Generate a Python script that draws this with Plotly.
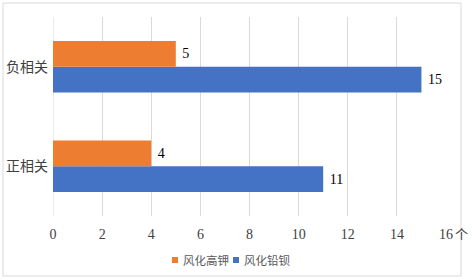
import plotly.graph_objects as go

categories = ["正相关", "负相关"]
series_names = ["风化高钾", "风化铅钡"]
k_values = [4, 5]
pb_values = [11, 15]
x_ticks = [0, 2, 4, 6, 8, 10, 12, 14, 16]

orange = "#ED7D31"
blue = "#4472C4"
serif = "Liberation Serif"
sans = "Noto Sans CJK SC"

L, R, T, B = 53, 446, 17, 216
W, H = R - L, B - T


def px(x):
    return (x - L) / W


def py(y):
    return (B - y) / H


fig = go.Figure()
fig.add_trace(go.Bar(
    y=categories, x=pb_values, name=series_names[1], orientation="h",
    marker=dict(color=blue, line=dict(width=0)),
    texttemplate=" %{x}", textposition="outside",
    textfont=dict(family=serif, size=14, color="#000000"),
    cliponaxis=False, showlegend=False, hoverinfo="skip",
))
fig.add_trace(go.Bar(
    y=categories, x=k_values, name=series_names[0], orientation="h",
    marker=dict(color=orange, line=dict(width=0)),
    texttemplate=" %{x}", textposition="outside",
    textfont=dict(family=serif, size=14, color="#000000"),
    cliponaxis=False, showlegend=False, hoverinfo="skip",
))

shapes = [
    dict(type="rect", xref="paper", yref="paper",
         x0=px(3), x1=px(461), y0=py(276), y1=py(3),
         line=dict(color="#D9D9D9", width=1), fillcolor="rgba(0,0,0,0)", layer="below"),
    dict(type="line", xref="x", yref="paper", x0=0, x1=0, y0=0, y1=1,
         line=dict(color="#D9D9D9", width=1), layer="below"),
    # legend swatches
    dict(type="rect", xref="paper", yref="paper", x0=px(172), x1=px(178),
         y0=py(263), y1=py(257), fillcolor=orange, line=dict(width=0)),
    dict(type="rect", xref="paper", yref="paper", x0=px(233), x1=px(239),
         y0=py(263), y1=py(257), fillcolor=blue, line=dict(width=0)),
]

annotations = [
    dict(text="个", xref="paper", yref="paper", x=px(461), y=py(233),
         xanchor="center", yanchor="middle", showarrow=False,
         font=dict(family=sans, size=13, color="#404040")),
    dict(text=series_names[0], xref="paper", yref="paper", x=px(181), y=py(260),
         xanchor="left", yanchor="middle", showarrow=False,
         font=dict(family=sans, size=11.5, color="#595959")),
    dict(text=series_names[1], xref="paper", yref="paper", x=px(242), y=py(260),
         xanchor="left", yanchor="middle", showarrow=False,
         font=dict(family=sans, size=11.5, color="#595959")),
]

fig.update_layout(
    width=472, height=279,
    margin=dict(l=L, r=472 - R, t=T, b=279 - B, autoexpand=False),
    paper_bgcolor="white", plot_bgcolor="white",
    barmode="group", bargap=0.48, bargroupgap=0,
    showlegend=False,
    xaxis=dict(range=[0, 16], tickvals=x_ticks, showgrid=True, gridcolor="#D9D9D9",
               gridwidth=1, zeroline=False, showline=False, ticks="",
               automargin=False, ticklabelstandoff=8,
               tickfont=dict(family=serif, size=14, color="#404040")),
    yaxis=dict(showgrid=False, zeroline=False, showline=False, ticks="",
               automargin=False, ticklabelstandoff=4,
               tickfont=dict(family=sans, size=14, color="#404040")),
    shapes=shapes,
    annotations=annotations,
)

fig.write_html("out.html", config={"displayModeBar": False},
               post_script="document.body.style.margin='0';document.body.style.overflow='hidden';")
